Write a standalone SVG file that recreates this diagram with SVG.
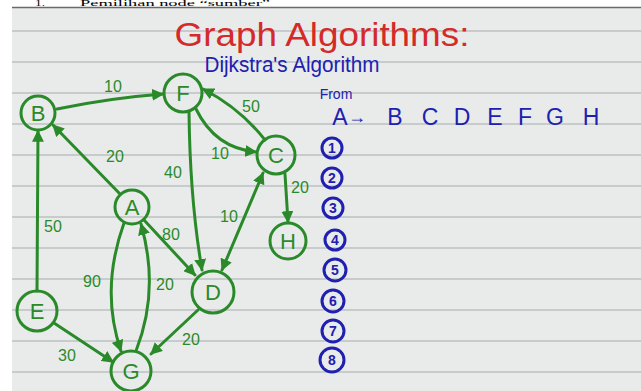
<svg xmlns="http://www.w3.org/2000/svg" width="641" height="391" viewBox="0 0 641 391">
<style>
.rule{stroke:#c8cbcb;stroke-width:2}
.nc{fill:none;stroke:#2a8a2a;stroke-width:3}
.nt{font-family:"Liberation Sans",Arial,sans-serif;font-size:22px;fill:#2a8a2a;text-anchor:middle}
.e{fill:none;stroke:#2a8a2a;stroke-width:3;stroke-linecap:round;marker-end:url(#ah)}
.el{font-family:"Liberation Sans",Arial,sans-serif;font-size:16px;fill:#2a8a2a;text-anchor:middle}
.bt{font-family:"Liberation Sans",Arial,sans-serif;fill:#2020b0;text-anchor:middle}
.bc{fill:none;stroke:#2020b0;stroke-width:3}
.bn{font-family:"Liberation Sans",Arial,sans-serif;font-size:14px;font-weight:bold;fill:#2020b0;text-anchor:middle}
</style>
<defs>
<marker id="ah" viewBox="0 0 10 10" refX="9" refY="5" markerWidth="4" markerHeight="4" orient="auto-start-reverse">
<path d="M0,0 L10,5 L0,10 Z" fill="#2a8a2a"/>
</marker>
</defs>
<rect x="0" y="0" width="641" height="391" fill="#ffffff"/>
<rect x="12" y="7" width="629" height="384" fill="#e9ebeb"/>
<line x1="12" y1="7.5" x2="641" y2="7.5" stroke="#6a6a6a" stroke-width="1.5"/>
<text x="35" y="6" font-family="'Liberation Serif',serif" font-size="8" fill="#000" textLength="10" lengthAdjust="spacingAndGlyphs">1.</text>
<text x="80" y="6" font-family="'Liberation Serif',serif" font-size="8" fill="#000" textLength="190" lengthAdjust="spacingAndGlyphs">Pemilihan node “sumber”</text>
<g id="rules">
<line class="rule" x1="12" y1="31" x2="641" y2="31"/>
<line class="rule" x1="12" y1="62" x2="641" y2="62"/>
<line class="rule" x1="12" y1="93" x2="641" y2="93"/>
<line class="rule" x1="12" y1="124" x2="641" y2="124"/>
<line class="rule" x1="12" y1="155" x2="641" y2="155"/>
<line class="rule" x1="12" y1="186" x2="641" y2="186"/>
<line class="rule" x1="12" y1="217" x2="641" y2="217"/>
<line class="rule" x1="12" y1="248" x2="641" y2="248"/>
<line class="rule" x1="12" y1="279" x2="641" y2="279"/>
<line class="rule" x1="12" y1="310" x2="641" y2="310"/>
<line class="rule" x1="12" y1="341" x2="641" y2="341"/>
<line class="rule" x1="12" y1="372" x2="641" y2="372"/>
</g>
<g id="title">
<text x="322" y="46" font-family="'Liberation Sans',sans-serif" font-size="34" fill="#d42a2a" text-anchor="middle" textLength="295" lengthAdjust="spacingAndGlyphs">Graph Algorithms:</text>
<text x="292" y="72" class="bt" font-size="22" textLength="175" lengthAdjust="spacingAndGlyphs">Dijkstra's Algorithm</text>
<text x="336" y="99" class="bt" font-size="14">From</text>
<text x="340" y="125" class="bt" font-size="23">A</text>
<text x="357" y="123" class="bt" font-size="18">→</text>
<text x="395" y="125" class="bt" font-size="23">B</text>
<text x="430" y="125" class="bt" font-size="23">C</text>
<text x="462" y="125" class="bt" font-size="23">D</text>
<text x="495" y="125" class="bt" font-size="23">E</text>
<text x="525" y="125" class="bt" font-size="23">F</text>
<text x="555" y="125" class="bt" font-size="23">G</text>
<text x="591" y="125" class="bt" font-size="23">H</text>
</g>
<g id="steps">
<circle class="bc" cx="332" cy="148" r="10"/><text class="bn" x="332" y="153">1</text>
<circle class="bc" cx="332" cy="178" r="10"/><text class="bn" x="332" y="183">2</text>
<circle class="bc" cx="333" cy="208" r="10"/><text class="bn" x="333" y="213">3</text>
<circle class="bc" cx="335" cy="240" r="10"/><text class="bn" x="335" y="245">4</text>
<circle class="bc" cx="335" cy="270" r="11"/><text class="bn" x="335" y="275">5</text>
<circle class="bc" cx="333" cy="301" r="11"/><text class="bn" x="333" y="306">6</text>
<circle class="bc" cx="333" cy="331" r="11"/><text class="bn" x="333" y="336">7</text>
<circle class="bc" cx="332" cy="360" r="12"/><text class="bn" x="332" y="365">8</text>
</g>
<g id="connectors">
<path class="e" d="M57,109 Q110,98 163,94"/>
<path class="e" d="M120,194 L53,125"/>
<path class="e" d="M37,291 L38,131"/>
<path class="e" d="M189,112 Q190,200 202,270"/>
<path class="e" d="M196,109 Q215,148 256,152"/>
<path class="e" d="M265,140 Q240,108 203,89"/>
<path class="e" d="M285,174 L288,222"/>
<path class="e" d="M222,270 L263,173" style="marker-start:url(#ah)"/>
<path class="e" d="M144,220 L195,275"/>
<path class="e" d="M124,223 Q100,290 121,351"/>
<path class="e" d="M136,351 Q160,290 141,224"/>
<path class="e" d="M198,310 L151,354"/>
<path class="e" d="M54,323 L113,362"/>
<text class="el" x="113" y="92">10</text>
<text class="el" x="115" y="162">20</text>
<text class="el" x="53" y="232">50</text>
<text class="el" x="173" y="178">40</text>
<text class="el" x="220" y="159">10</text>
<text class="el" x="251" y="112">50</text>
<text class="el" x="300" y="193">20</text>
<text class="el" x="229" y="222">10</text>
<text class="el" x="171" y="240">80</text>
<text class="el" x="92" y="287">90</text>
<text class="el" x="165" y="290">20</text>
<text class="el" x="191" y="345">20</text>
<text class="el" x="67" y="361">30</text>
</g>
<g id="node-B"><circle class="nc" cx="38" cy="113" r="17"/><text class="nt" x="38" y="121">B</text></g>
<g id="node-F"><circle class="nc" cx="183" cy="93" r="19"/><text class="nt" x="183" y="101">F</text></g>
<g id="node-C"><circle class="nc" cx="276" cy="155" r="19"/><text class="nt" x="276" y="163">C</text></g>
<g id="node-A"><circle class="nc" cx="132" cy="207" r="17"/><text class="nt" x="132" y="215">A</text></g>
<g id="node-H"><circle class="nc" cx="288" cy="241" r="18"/><text class="nt" x="288" y="249">H</text></g>
<g id="node-D"><circle class="nc" cx="213" cy="292" r="21"/><text class="nt" x="213" y="300">D</text></g>
<g id="node-E"><circle class="nc" cx="37" cy="311" r="20"/><text class="nt" x="37" y="319">E</text></g>
<g id="node-G"><circle class="nc" cx="131" cy="371" r="20"/><text class="nt" x="131" y="379">G</text></g>
</svg>
